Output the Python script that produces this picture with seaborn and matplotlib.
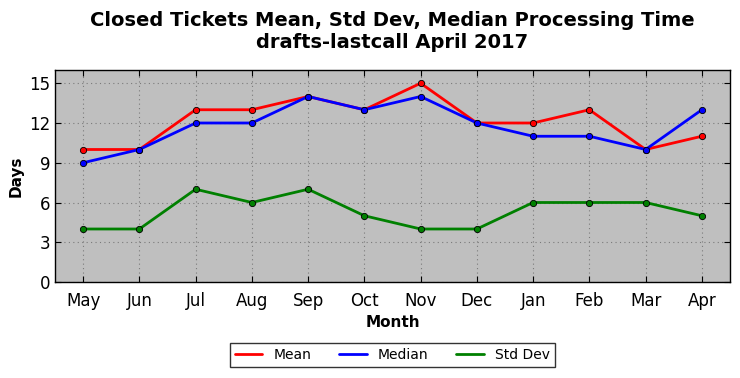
import matplotlib
matplotlib.use("Agg")
import matplotlib.pyplot as plt
from matplotlib.lines import Line2D
import seaborn as sns
import pandas as pd

months = ["May", "Jun", "Jul", "Aug", "Sep", "Oct", "Nov", "Dec", "Jan", "Feb", "Mar", "Apr"]
mean_vals = [10, 10, 13, 13, 14, 13, 15, 12, 12, 13, 10, 11]
median_vals = [9, 10, 12, 12, 14, 13, 14, 12, 11, 11, 10, 13]
std_vals = [4, 4, 7, 6, 7, 5, 4, 4, 6, 6, 6, 5]
series_names = ["Mean", "Median", "Std Dev"]
colors = ["red", "blue", "green"]

sns.set_style("ticks", {"text.color": "black", "axes.labelcolor": "black",
                        "xtick.color": "black", "ytick.color": "black"})
plt.rcParams["font.family"] = ["DejaVu Sans"]

rows = []
for name, vals in zip(series_names, [mean_vals, median_vals, std_vals]):
    for i, (m, v) in enumerate(zip(months, vals)):
        rows.append({"idx": i, "Month": m, "Days": v, "Series": name})
df = pd.DataFrame(rows)

fig = plt.figure(figsize=(7.4, 3.78), dpi=100)
ax = fig.add_axes([55/740, 1 - 282/378, (730-55)/740, (282-70)/378])
ax.set_facecolor("#bfbfbf")

sns.lineplot(data=df, x="idx", y="Days", hue="Series", palette=dict(zip(series_names, colors)),
             linewidth=2, marker="o", markersize=4.5, markeredgecolor="black", markeredgewidth=0.6,
             ax=ax, legend=False, zorder=3)

ax.set_xlim(-0.5, 11.5)
ax.set_ylim(0, 16)
ax.set_xticks(range(len(months)))
ax.set_xticklabels(months)
ax.set_yticks([0, 3, 6, 9, 12, 15])
ax.tick_params(direction="in", top=True, right=True, labelsize=12, length=4,
               colors="black", labelcolor="black")
ax.tick_params(axis="x", pad=7)
ax.grid(True, linestyle=(0, (1, 3)), color="#7a7a7a", linewidth=0.8)
for s in ax.spines.values():
    s.set_color("black")
    s.set_linewidth(1)
ax.set_xlabel("Month", fontsize=11, fontweight="bold", color="black")
ax.set_ylabel("Days", fontsize=11, fontweight="bold", color="black")
ax.set_title("Closed Tickets Mean, Std Dev, Median Processing Time\ndrafts-lastcall April 2017",
             fontsize=14, fontweight="bold", pad=16, color="black")

handles = [Line2D([0], [0], color=c, linewidth=2) for c in colors]
leg = ax.legend(handles, series_names, loc="upper center", bbox_to_anchor=(0.5, -0.255), ncol=3,
                fontsize=10, frameon=True, fancybox=False, edgecolor="black", columnspacing=2.0,
                handlelength=2, borderpad=0.35)
leg.get_frame().set_linewidth(1)
for t in leg.get_texts():
    t.set_color("black")

fig.savefig("out.png", dpi=100)
